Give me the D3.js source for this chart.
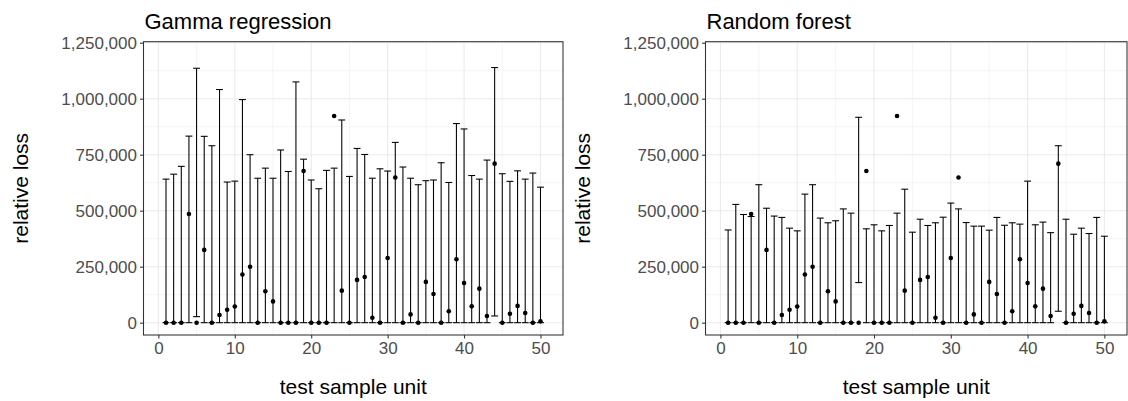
<!DOCTYPE html>
<html>
<head>
<meta charset="utf-8">
<script src="https://cdn.jsdelivr.net/npm/d3@7"></script>
<style>
  body { margin: 0; background: #fff; }
  svg { display: block; font-family: "Liberation Sans", Arial, sans-serif; }
</style>
</head>
<body>
<div id="charts"></div>
<script>
// test sample units
var units = [1,2,3,4,5,6,7,8,9,10,11,12,13,14,15,16,17,18,19,20,21,22,23,24,25,
             26,27,28,29,30,31,32,33,34,35,36,37,38,39,40,41,42,43,44,45,46,47,48,49,50];

// observed relative loss (same in both panels)
var observed = [0,0,0,485000,0,325000,0,34000,58000,72000,215000,250000,0,140000,95000,0,0,0,677000,0,
                0,0,923000,143000,0,191000,204000,22000,0,289000,648000,0,37000,0,182000,128000,0,51000,283000,177000,
                73000,152000,30000,710000,0,40000,75000,43000,0,6000];

// gamma regression intervals
var gammaLower = [0,0,0,0,27000,0,0,0,0,0,0,0,0,0,0,0,0,0,0,0,
                  0,0,0,0,0,0,0,0,0,0,0,0,0,0,0,0,0,0,0,0,
                  0,0,0,30000,0,0,0,0,0,0];
var gammaUpper = [641000,663000,698000,833000,1136000,832000,790000,1041000,628000,632000,
                  996000,750000,645000,690000,645000,771000,675000,1075000,730000,637000,
                  598000,680000,690000,905000,653000,778000,751000,645000,687000,677000,
                  805000,695000,645000,616000,634000,637000,714000,626000,889000,865000,
                  657000,641000,726000,1139000,665000,631000,678000,641000,668000,605000];

// random forest intervals
var rfLower = [0,0,0,0,0,0,0,0,0,0,0,0,0,0,0,0,0,179000,0,0,
               0,0,0,0,0,0,0,0,0,0,0,0,0,0,0,0,0,0,0,0,
               0,0,0,51000,0,0,0,0,0,0];
var rfUpper = [414000,528000,483000,474000,616000,511000,476000,470000,422000,410000,
               574000,616000,467000,446000,455000,508000,489000,917000,419000,437000,
               410000,434000,489000,596000,404000,462000,434000,446000,471000,534000,
               508000,447000,431000,431000,413000,470000,435000,446000,440000,632000,
               437000,449000,402000,790000,462000,395000,422000,398000,470000,386000];

var xTicks = [0,10,20,30,40,50];
var xMinor = [5,15,25,35,45];
var yTicks = [0,250000,500000,750000,1000000,1250000];
var yMinor = [125000,375000,625000,875000,1125000];

var W = 1128, H = 401;
var svg = d3.select("#charts").append("svg")
  .attr("width", W).attr("height", H);

function drawPanel(title, lower, upper, left, right)
{
  var top = 41.7, bottom = 335;
  var x = d3.scaleLinear().domain([-1.945, 52.945]).range([left, right]);
  var y = d3.scaleLinear().domain([-55000, 1254500]).range([bottom, top]);
  var g = svg.append("g");

  // grid
  g.selectAll(".ymin").data(yMinor).enter().append("line")
    .attr("x1", left).attr("x2", right)
    .attr("y1", d => y(d)).attr("y2", d => y(d))
    .style("stroke", "#ebebeb").style("stroke-width", 0.55);
  g.selectAll(".xmin").data(xMinor).enter().append("line")
    .attr("y1", top).attr("y2", bottom)
    .attr("x1", d => x(d)).attr("x2", d => x(d))
    .style("stroke", "#ebebeb").style("stroke-width", 0.55);
  g.selectAll(".ymaj").data(yTicks).enter().append("line")
    .attr("x1", left).attr("x2", right)
    .attr("y1", d => y(d)).attr("y2", d => y(d))
    .style("stroke", "#ebebeb").style("stroke-width", 1.1);
  g.selectAll(".xmaj").data(xTicks).enter().append("line")
    .attr("y1", top).attr("y2", bottom)
    .attr("x1", d => x(d)).attr("x2", d => x(d))
    .style("stroke", "#ebebeb").style("stroke-width", 1.1);

  // error bars
  var hw = 0.45;
  var bars = g.selectAll(".bar").data(units).enter().append("g");
  bars.append("line")
    .attr("x1", (d, i) => x(d)).attr("x2", (d, i) => x(d))
    .attr("y1", (d, i) => y(lower[i])).attr("y2", (d, i) => y(upper[i]));
  bars.append("line")
    .attr("x1", d => x(d - hw)).attr("x2", d => x(d + hw))
    .attr("y1", (d, i) => y(lower[i])).attr("y2", (d, i) => y(lower[i]));
  bars.append("line")
    .attr("x1", d => x(d - hw)).attr("x2", d => x(d + hw))
    .attr("y1", (d, i) => y(upper[i])).attr("y2", (d, i) => y(upper[i]));
  bars.selectAll("line").style("stroke", "#000").style("stroke-width", 1.07);

  // observed points
  g.selectAll(".pt").data(units).enter().append("circle")
    .attr("cx", d => x(d))
    .attr("cy", (d, i) => y(observed[i]))
    .attr("r", 2.3)
    .style("fill", "#000");

  // axes
  var xAxis = g.append("g")
    .attr("transform", "translate(0," + bottom + ")")
    .call(d3.axisBottom(x).tickValues(xTicks).tickSize(3.5).tickPadding(3));
  var yAxis = g.append("g")
    .attr("transform", "translate(" + left + ",0)")
    .call(d3.axisLeft(y).tickValues(yTicks).tickFormat(d3.format(",")).tickSize(3.5).tickPadding(3));
  [xAxis, yAxis].forEach(a => {
    a.select(".domain").remove();
    a.selectAll(".tick line").style("stroke", "#333").style("stroke-width", 1.07);
    a.selectAll("text").style("fill", "#4d4d4d").style("font-size", "17px")
      .style("font-family", "Liberation Sans, Arial, sans-serif");
  });

  // panel border
  g.append("rect")
    .attr("x", left).attr("y", top)
    .attr("width", right - left).attr("height", bottom - top)
    .style("fill", "none").style("stroke", "#333").style("stroke-width", 1.07);

  // titles
  g.append("text")
    .attr("x", left + 1).attr("y", 29)
    .style("font-size", "22px").style("fill", "#000")
    .text(title);
  g.append("text")
    .attr("x", (left + right) / 2).attr("y", 394)
    .attr("text-anchor", "middle")
    .style("font-size", "21px").style("fill", "#000")
    .text("test sample unit");
  g.append("text")
    .attr("transform", "translate(" + (left - 116) + "," + ((top + bottom) / 2) + ") rotate(-90)")
    .attr("text-anchor", "middle")
    .style("font-size", "21px").style("fill", "#000")
    .text("relative loss");
}

drawPanel("Gamma regression", gammaLower, gammaUpper, 143.5, 563);
drawPanel("Random forest", rfLower, rfUpper, 705.5, 1127);
</script>
</body>
</html>
